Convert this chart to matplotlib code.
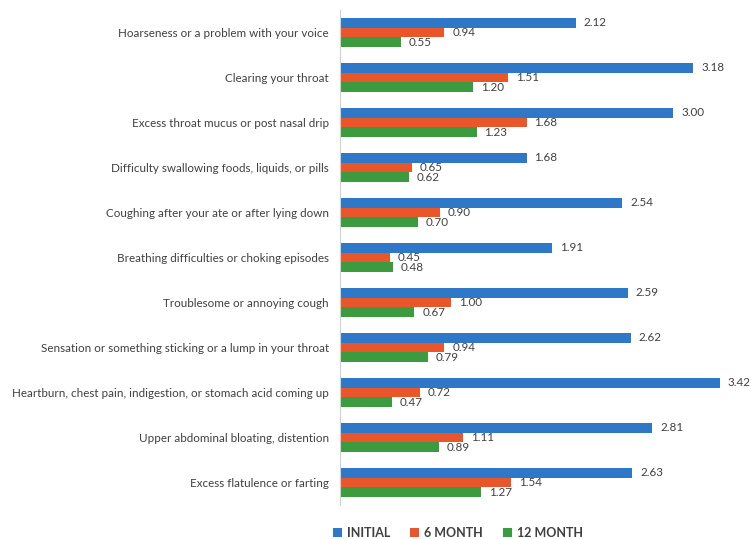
import numpy as np
import matplotlib.pyplot as plt

categories = [
    "Hoarseness or a problem with your voice",
    "Clearing your throat",
    "Excess throat mucus or post nasal drip",
    "Difficulty swallowing foods, liquids, or pills",
    "Coughing after your ate or after lying down",
    "Breathing difficulties or choking episodes",
    "Troublesome or annoying cough",
    "Sensation or something sticking or a lump in your throat",
    "Heartburn, chest pain, indigestion, or stomach acid coming up",
    "Upper abdominal bloating, distention",
    "Excess flatulence or farting",
]
initial = [2.12, 3.18, 3.00, 1.68, 2.54, 1.91, 2.59, 2.62, 3.42, 2.81, 2.63]
month6 = [0.94, 1.51, 1.68, 0.65, 0.90, 0.45, 1.00, 0.94, 0.72, 1.11, 1.54]
month12 = [0.55, 1.20, 1.23, 0.62, 0.70, 0.48, 0.67, 0.79, 0.47, 0.89, 1.27]
series_names = ["INITIAL", "6 MONTH", "12 MONTH"]
colors = ["#2E78C7", "#E8562A", "#3C9B3F"]

plt.rcParams['font.family'] = ['Lato', 'DejaVu Sans']
text_color = "#404040"

fig = plt.figure(figsize=(7.51, 5.39), dpi=100)
ax = fig.add_axes([340 / 751, 1 - 505 / 539, 400 / 751, 495 / 539])

y = np.arange(len(categories))
h = 0.22
offsets = [-h, 0, h]
for vals, off, col, name in zip([initial, month6, month12], offsets, colors, series_names):
    bars = ax.barh(y + off, vals, height=h, color=col, label=name)
    for b, v in zip(bars, vals):
        ax.text(b.get_width() + 0.07, b.get_y() + b.get_height() / 2, f"{v:.2f}",
                va="center", ha="left", fontsize=8.4, color=text_color)

ax.set_xlim(0, 3.6)
ax.set_ylim(len(categories) - 0.5, -0.5)
ax.set_yticks(y)
ax.set_yticklabels(categories, fontsize=8.4, color=text_color)
ax.tick_params(axis="y", length=0, pad=8)
ax.set_xticks([])
for s in ["top", "right", "bottom"]:
    ax.spines[s].set_visible(False)
ax.spines["left"].set_color("#D0D0D0")

leg = fig.legend(loc="center", bbox_to_anchor=(458 / 751, 1 - 533 / 539), ncol=3,
                 frameon=False, handlelength=0.7, handleheight=0.7, columnspacing=1.6,
                 handletextpad=0.4, prop={"weight": "bold", "size": 9})
for t in leg.get_texts():
    t.set_color(text_color)

fig.savefig("out.png", dpi=100)
